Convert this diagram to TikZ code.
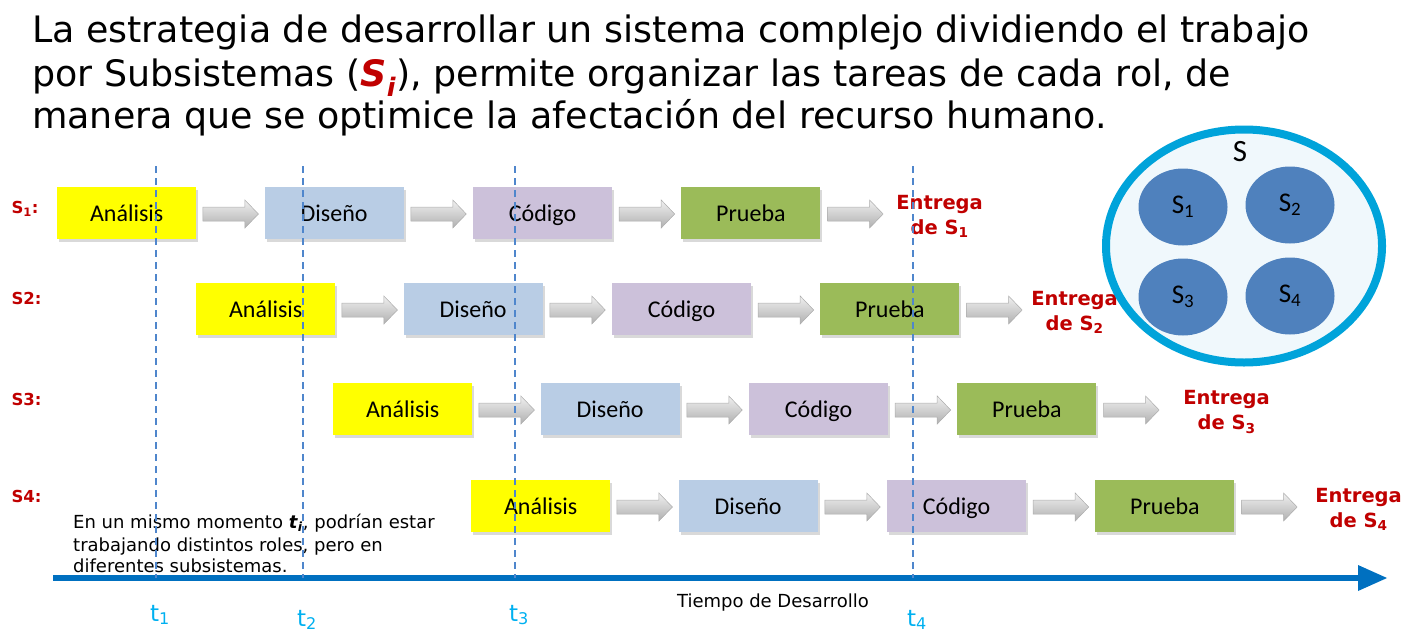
\documentclass[tikz,border=0pt]{standalone}
\usepackage{fontspec}
\setmainfont{DejaVu Sans}
\newfontfamily\carl{Carlito}
\usetikzlibrary{shapes.geometric,shadows,positioning,calc}
\definecolor{anal}{HTML}{FFFF00}
\definecolor{dise}{HTML}{B9CDE5}
\definecolor{codi}{HTML}{CCC1DA}
\definecolor{prue}{HTML}{9BBB59}
\definecolor{rojo}{HTML}{C00000}
\definecolor{cian}{HTML}{00B0F0}
\definecolor{eje}{HTML}{0070C0}
\definecolor{aro}{HTML}{00A3DA}
\definecolor{fondo}{HTML}{F0F8FC}
\definecolor{sub}{HTML}{4F81BD}
\definecolor{guia}{HTML}{4F86CC}
\tikzset{
  x=1pt,y=-1pt,
  phase/.style={minimum width=139pt,minimum height=52pt,inner sep=0pt,
    text height=20pt,text depth=3.4pt,
    font=\carl\fontsize{24}{28}\selectfont,
    drop shadow={shadow xshift=2pt,shadow yshift=-3pt,opacity=0.3}},
  blockarrow/.style={top color=gray!12,bottom color=gray!62,draw=gray!65,line width=0.5pt,
    line join=miter},
  entrega/.style={align=center,text=rojo,font=\bfseries\fontsize{19.5}{25}\selectfont},
  rowlab/.style={anchor=west,text=rojo,font=\bfseries\fontsize{16.5}{20}\selectfont},
  guide/.style={draw=guia,dash pattern=on 7pt off 5pt,line width=1.2pt},
  tlab/.style={text=cian,font=\fontsize{23}{26}\selectfont},
  titl/.style={anchor=base west,inner sep=0pt,font=\fontsize{36.4}{44}\selectfont},
  note/.style={anchor=base west,inner sep=0pt,font=\fontsize{18}{22}\selectfont},
  subsys/.style={ellipse,fill=sub,minimum width=89pt,minimum height=77pt,inner sep=0pt,
    font=\carl\fontsize{27}{30}\selectfont}
}
\newcommand\garrow[1]{%
  \path[blockarrow] ($(#1)+(-27.5,-7)$) -- ++(42,0) -- ++(0,-7) -- ++(13.5,14)
    -- ++(-13.5,14) -- ++(0,-7) -- ++(-42,0) -- cycle;}
\begin{document}
\begin{tikzpicture}
\useasboundingbox (0,0) rectangle (1407,637);
% title
\node[titl] (ti1) at (32,42) {La estrategia de desarrollar un sistema complejo dividiendo el trabajo};
\node[titl] (ti2) at (32,86) {por Subsistemas (\textcolor{rojo}{\textbf{\textit{S}}\textsubscript{\textbf{\textit{i}}}}), permite organizar las tareas de cada rol, de};
\node[titl] (ti3) at (32,128) {manera que se optimice la afectación del recurso humano.};
% rows
\foreach \r/\x/\y/\e in {1/57/213/119,2/196/309/115,3/333/409/130,4/471/506/124}{
  \node[phase,fill=anal,anchor=west] (a\r) at (\x,\y) {Análisis};
  \node[phase,fill=dise,right=68pt of a\r] (d\r) {Diseño};
  \node[phase,fill=codi,right=69pt of d\r] (c\r) {Código};
  \node[phase,fill=prue,right=69pt of c\r] (p\r) {Prueba};
  \coordinate (m1\r) at ($(a\r.east)!0.5!(d\r.west)+(0,1)$);
  \coordinate (m2\r) at ($(d\r.east)!0.5!(c\r.west)+(0,1)$);
  \coordinate (m3\r) at ($(c\r.east)!0.5!(p\r.west)+(0,1)$);
  \coordinate (m4\r) at ($(p\r.east)+(34.5,1)$);
  \garrow{m1\r}\garrow{m2\r}\garrow{m3\r}\garrow{m4\r}
  \node[entrega] (en\r) at ($(p\r.east)+(\e,3)$) {Entrega\\de S\textsubscript{\r}};
}
\node[rowlab] (l1) at (8,209) {S\textsubscript{1}:};
\node[rowlab] (l2) at (8,298) {S2:};
\node[rowlab] (l3) at (8,399) {S3:};
\node[rowlab] (l4) at (8,496) {S4:};
% note
\node[note] (n1) at (73,528) {En un mismo momento \textbf{\textit{t}}\textsubscript{\textbf{\textit{i}}}, podrían estar};
\node[note] (n2) at (73,551) {trabajando distintos roles, pero en};
\node[note] (n3) at (73,572) {diferentes subsistemas.};
% time axis
\coordinate (axs) at (53,578);
\coordinate (axe) at (1360,578);
\coordinate (axt) at (1387,578);
\draw[eje,line width=6pt] (axs) -- (axe);
\fill[eje] ($(axe)+(-2,-13)$) -- (axt) -- ($(axe)+(-2,13)$) -- cycle;
\node[font=\fontsize{18}{22}\selectfont] (tdes) at (773,603) {Tiempo de Desarrollo};
% guides
\foreach \i/\gx/\ly in {1/156/615,2/303/620,3/515/615,4/913/620}{
  \coordinate (g\i t) at (\gx,166);
  \coordinate (g\i b) at (\gx,578);
  \draw[guide] (g\i t) -- (g\i b);
  \node[tlab] (tl\i) at (\gx+4,\ly) {t\textsubscript{\i}};
}
% system circle
\node[ellipse,draw=aro,fill=fondo,line width=8pt,minimum width=276pt,minimum height=233pt] (S) at (1244,246) {};
\node[font=\carl\fontsize{31}{34}\selectfont] (Slab) at (1240,152) {S};
\node[subsys] (s1) at (1183,207) {S\textsubscript{1}};
\node[subsys] (s2) at (1290,205) {S\textsubscript{2}};
\node[subsys] (s3) at (1183,297) {S\textsubscript{3}};
\node[subsys] (s4) at (1290,296) {S\textsubscript{4}};
\end{tikzpicture}
\end{document}
